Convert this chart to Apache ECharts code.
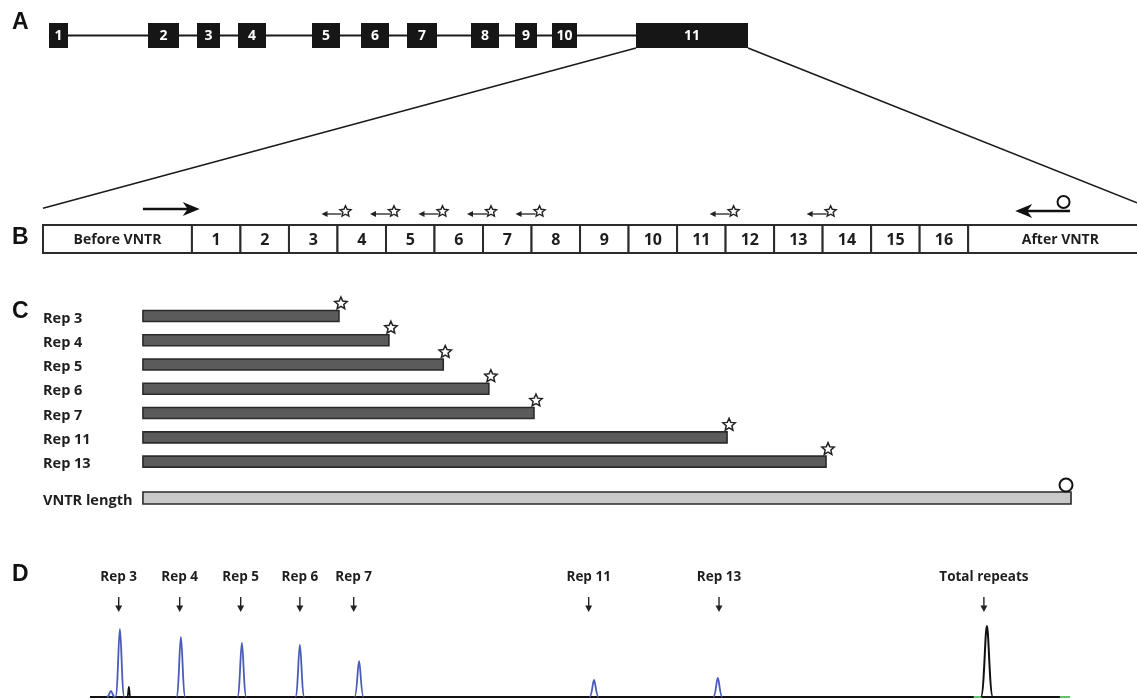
<!DOCTYPE html>
<html><head><meta charset="utf-8">
<script src="https://cdn.jsdelivr.net/npm/echarts@6/dist/echarts.min.js"></script>
<style>html,body{margin:0;padding:0;background:#fff}#c{width:1137px;height:700px}</style>
</head><body><div id="c"></div>
<script>
// ---------- Panel A: gene structure (relative gene units) ----------
const exonLabels = ['1','2','3','4','5','6','7','8','9','10','11'];
const exonStart  = [0, 99, 148, 189, 263, 312, 358, 422, 466, 503, 587];
const exonEnd    = [19, 130, 171, 217, 291, 340, 388, 450, 488, 528, 699];

// ---------- Panel B: VNTR region (repeat units) ----------
const regionLabels = ['Before VNTR','1','2','3','4','5','6','7','8','9','10','11','12','13','14','15','16','After VNTR'];
const regionStart  = [-3.07,0,1,2,3,4,5,6,7,8,9,10,11,12,13,14,15,16];
const regionEnd    = [0,1,2,3,4,5,6,7,8,9,10,11,12,13,14,15,16,19.8];
const forwardPrimer = [-1.01, 0.16];
const reversePrimer = [16.97, 18.1];
const internalPrimers = [3,4,5,6,7,11,13];

// ---------- Panel C: PCR products ----------
const productLabels = ['Rep 3','Rep 4','Rep 5','Rep 6','Rep 7','Rep 11','Rep 13','VNTR length'];
const productRow    = [0,1,2,3,4,5,6,7.5];
const productStart  = [-1.01,-1.01,-1.01,-1.01,-1.01,-1.01,-1.01,-1.01];
const productEnd    = [3.03,4.06,5.18,6.12,7.05,11.03,13.07,18.12];
const productType   = ['star','star','star','star','star','star','star','circle'];

// ---------- Panel D: electropherogram ----------
const markerLabels = ['Rep 3','Rep 4','Rep 5','Rep 6','Rep 7','Rep 11','Rep 13','Total repeats'];
const markerPos    = [2.98,4.0,5.02,6.01,6.91,10.84,13.02,17.45];
const peakPos      = [3.0,4.02,5.04,6.01,7.0,10.93,13.0,17.5];
const peakHeight   = [68,60,54,52,36,17,19,71];
const peakChannel  = ['blue','blue','blue','blue','blue','blue','blue','black'];
const noisePos     = [2.85,3.15];
const noiseHeight  = [6,10];
const noiseChannel = ['blue','black'];
const traceRange   = [2.5,18.89];
const greenSegments = [[17.28,17.42],[18.72,18.89]];

const FONT = '"Open Sans", "Noto Sans", sans-serif';
const chColor = {blue:'#4a5cb8', black:'#111111'};

function starPoints(cx, cy, ro, ri){
  const pts=[];
  for(let k=0;k<10;k++){
    const a = -Math.PI/2 + k*Math.PI/5;
    const r = k%2===0 ? ro : ri;
    pts.push([cx + r*Math.cos(a), cy + r*Math.sin(a)]);
  }
  return pts;
}

const chart = echarts.init(document.getElementById('c'), null, {renderer:'canvas'});

const option = {
  animation:false,
  backgroundColor:'#ffffff',
  grid:[
    {left:0, right:0, top:23, height:25},
    {left:43, right:0, top:225, height:28},
    {left:43, right:0, top:291.7, height:230.6},
    {left:90, right:67, top:597, height:100}
  ],
  xAxis:[
    {gridIndex:0, type:'value', min:-49, max:1088, show:false},
    {gridIndex:1, type:'value', min:-3.07, max:19.48, show:false},
    {gridIndex:2, type:'value', min:-3.07, max:19.48, show:false},
    {gridIndex:3, type:'value', min:traceRange[0], max:traceRange[1], show:false}
  ],
  yAxis:[
    {gridIndex:0, type:'value', min:0, max:1, show:false},
    {gridIndex:1, type:'value', min:0, max:1, show:false},
    {gridIndex:2, type:'value', min:-1, max:8.5, inverse:true, show:false},
    {gridIndex:3, type:'value', min:0, max:100, show:false}
  ],
  graphic:[
    {type:'text', left:12, top:11, style:{text:'A', font:'bold 23px "Liberation Sans", Arial, sans-serif', fill:'#111'}},
    {type:'text', left:12, top:226, style:{text:'B', font:'bold 23px "Liberation Sans", Arial, sans-serif', fill:'#111'}},
    {type:'text', left:12, top:300, style:{text:'C', font:'bold 23px "Liberation Sans", Arial, sans-serif', fill:'#111'}},
    {type:'text', left:12, top:563, style:{text:'D', font:'bold 23px "Liberation Sans", Arial, sans-serif', fill:'#111'}}
  ],
  series:[
    // intron line
    {type:'line', xAxisIndex:0, yAxisIndex:0, symbol:'none', silent:true, z:1,
     data:[[exonStart[0],0.5],[exonEnd[exonEnd.length-1],0.5]],
     lineStyle:{color:'#1a1a1a', width:2}},
    // exons
    {type:'custom', xAxisIndex:0, yAxisIndex:0, silent:true, z:5,
     data: exonStart.map((s,i)=>[s, exonEnd[i]]),
     renderItem:function(params, api){
       const p0=api.coord([api.value(0),1]), p1=api.coord([api.value(1),0]);
       return {type:'group', children:[
         {type:'rect', shape:{x:p0[0], y:p0[1], width:p1[0]-p0[0], height:p1[1]-p0[1]}, style:{fill:'#161616'}},
         {type:'text', z2:10, style:{text:exonLabels[params.dataIndex], x:(p0[0]+p1[0])/2, y:(p0[1]+p1[1])/2+1,
           fill:'#ffffff', font:'bold 14px '+FONT, textAlign:'center', textVerticalAlign:'middle', align:'center', verticalAlign:'middle'}}
       ]};
     }},
    // B cells
    {type:'custom', xAxisIndex:1, yAxisIndex:1, silent:true,
     data: regionStart.map((s,i)=>[s, regionEnd[i]]),
     renderItem:function(params, api){
       const p0=api.coord([api.value(0),1]), p1=api.coord([api.value(1),0]);
       const lab = regionLabels[params.dataIndex];
       const big = lab.length<=2;
       return {type:'group', children:[
         {type:'rect', shape:{x:p0[0], y:p0[1], width:p1[0]-p0[0], height:p1[1]-p0[1]}, style:{fill:'#fff', stroke:'#2b2b2b', lineWidth:2}},
         {type:'text', style:{text:lab, x:(p0[0]+p1[0])/2, y:(p0[1]+p1[1])/2+1,
           fill:'#1e1e1e', font:'bold '+(big?'16px ':'14px ')+FONT, textAlign:'center', textVerticalAlign:'middle', align:'center', verticalAlign:'middle'}}
       ]};
     }},
    // B flanking primers
    {type:'custom', xAxisIndex:1, yAxisIndex:1, silent:true,
     data:[[forwardPrimer[0],forwardPrimer[1],0],[reversePrimer[0],reversePrimer[1],1]],
     renderItem:function(params, api){
       const a=api.coord([api.value(0),1]), b=api.coord([api.value(1),1]);
       const dir=api.value(2);
       if(dir===0){
         const y=a[1]-16, x1=a[0], x2=b[0];
         return {type:'group', children:[
           {type:'line', shape:{x1:x1,y1:y,x2:x2-10,y2:y}, style:{stroke:'#111', lineWidth:2.6}},
           {type:'polygon', shape:{points:[[x2,y],[x2-17,y-7],[x2-12,y],[x2-17,y+7]]}, style:{fill:'#111'}}
         ]};
       } else {
         const y=a[1]-14, x1=a[0], x2=b[0];
         return {type:'group', children:[
           {type:'line', shape:{x1:x1+10,y1:y,x2:x2,y2:y}, style:{stroke:'#111', lineWidth:2.6}},
           {type:'polygon', shape:{points:[[x1,y],[x1+17,y-7],[x1+12,y],[x1+17,y+7]]}, style:{fill:'#111'}},
           {type:'circle', shape:{cx:x2-6.5, cy:y-9, r:6}, style:{fill:'#fff', stroke:'#111', lineWidth:2}}
         ]};
       }
     }},
    // B internal primers with star labels
    {type:'custom', xAxisIndex:1, yAxisIndex:1, silent:true,
     data: internalPrimers.map(n=>[n]),
     renderItem:function(params, api){
       const p=api.coord([api.value(0),1]);
       const bx=p[0], y=p[1]-11;
       return {type:'group', children:[
         {type:'line', shape:{x1:bx-12,y1:y,x2:bx+4,y2:y}, style:{stroke:'#222', lineWidth:1.3}},
         {type:'polygon', shape:{points:[[bx-16,y],[bx-10,y-3],[bx-10,y+3]]}, style:{fill:'#222'}},
         {type:'polygon', shape:{points:starPoints(bx+8, y-2.5, 5.8, 2.7)}, style:{fill:'#fff', stroke:'#222', lineWidth:1.4}}
       ]};
     }},
    // C products
    {type:'custom', xAxisIndex:2, yAxisIndex:2, silent:true,
     data: productRow.map((r,i)=>[productStart[i], r, productEnd[i]]),
     renderItem:function(params, api){
       const i=params.dataIndex;
       const a=api.coord([api.value(0),api.value(1)]), b=api.coord([api.value(2),api.value(1)]);
       const isStar = productType[i]==='star';
       const h = isStar?11:12;
       const top=a[1]-h/2;
       const kids=[
         {type:'rect', shape:{x:a[0], y:top, width:b[0]-a[0], height:h},
          style:{fill:isStar?'#5b5b5b':'#c9c9c9', stroke:'#2a2a2a', lineWidth:1.6}},
         {type:'text', style:{text:productLabels[i], x:api.coord([-3.07,0])[0], y:a[1]+2.5,
           fill:'#1e1e1e', font:'bold 14.5px '+FONT, textAlign:'left', textVerticalAlign:'middle', align:'left', verticalAlign:'middle'}}
       ];
       if(isStar){
         kids.push({type:'polygon', shape:{points:starPoints(b[0]+2, top-7, 6.5, 3)}, style:{fill:'#fff', stroke:'#222', lineWidth:1.5}});
       } else {
         kids.push({type:'circle', shape:{cx:b[0]-5, cy:top-7, r:6.5}, style:{fill:'#fff', stroke:'#111', lineWidth:2}});
       }
       return {type:'group', children:kids};
     }},
    // D baseline
    {type:'line', xAxisIndex:3, yAxisIndex:3, symbol:'none', silent:true,
     data:[[traceRange[0],0],[traceRange[1],0]],
     lineStyle:{color:'#111', width:2}, z:3},
    // D green channel traces near baseline
    {type:'custom', xAxisIndex:3, yAxisIndex:3, silent:true, z:4,
     data: greenSegments,
     renderItem:function(params, api){
       const a=api.coord([api.value(0),0]), b=api.coord([api.value(1),0]);
       return {type:'line', shape:{x1:a[0],y1:a[1],x2:b[0],y2:b[1]}, style:{stroke:'#5fc46a', lineWidth:2}};
     }},
    // D peaks + noise
    {type:'custom', xAxisIndex:3, yAxisIndex:3, silent:true, z:5,
     data: peakPos.map((p,i)=>[p, peakHeight[i], 0, i]).concat(noisePos.map((p,i)=>[p, noiseHeight[i], 1, i])),
     renderItem:function(params, api){
       const isNoise = api.value(2)===1, idx=api.value(3);
       const ch = isNoise ? noiseChannel[idx] : peakChannel[idx];
       const base=api.coord([api.value(0),0]), top=api.coord([api.value(0),api.value(1)]);
       const x=base[0], yb=base[1], yt=top[1];
       const w = isNoise ? (ch==='black'?1.5:4) : (ch==='black'?6:4.5);
       const d = 'M'+(x-w)+' '+yb+' C'+(x-w*0.45)+' '+yb+' '+(x-w*0.3)+' '+yt+' '+x+' '+yt+
                 ' C'+(x+w*0.3)+' '+yt+' '+(x+w*0.45)+' '+yb+' '+(x+w)+' '+yb;
       return {type:'path', shape:{pathData:d}, style:{fill:'none', stroke:chColor[ch], lineWidth:ch==='black'&&!isNoise?2:1.8}};
     }},
    // D markers (labels and arrows)
    {type:'custom', xAxisIndex:3, yAxisIndex:3, silent:true,
     data: markerPos.map(p=>[p,100]),
     renderItem:function(params, api){
       const p=api.coord([api.value(0),100]);
       const x=p[0], y0=p[1];
       return {type:'group', children:[
         {type:'text', style:{text:markerLabels[params.dataIndex], x:x, y:y0-20, fill:'#1e1e1e',
           font:'bold 13.5px '+FONT, textAlign:'center', textVerticalAlign:'middle', align:'center', verticalAlign:'middle'}},
         {type:'line', shape:{x1:x,y1:y0,x2:x,y2:y0+12}, style:{stroke:'#222', lineWidth:1.4}},
         {type:'polygon', shape:{points:[[x-3.5,y0+8.5],[x+3.5,y0+8.5],[x,y0+15]]}, style:{fill:'#222'}}
       ]};
     }}
  ]
};
chart.setOption(option);

// connector lines from exon 11 to the expanded VNTR region
const exL = chart.convertToPixel({xAxisIndex:0, yAxisIndex:0}, [exonStart[10], 0]);
const exR = chart.convertToPixel({xAxisIndex:0, yAxisIndex:0}, [exonEnd[10], 0]);
const bL  = chart.convertToPixel({xAxisIndex:1, yAxisIndex:1}, [regionStart[0], 1.6]);
const bR  = chart.convertToPixel({xAxisIndex:1, yAxisIndex:1}, [19.48, 1.79]);
chart.setOption({graphic: option.graphic.concat([
  {type:'line', shape:{x1:exL[0], y1:exL[1], x2:bL[0], y2:bL[1]}, style:{stroke:'#1a1a1a', lineWidth:1.5}},
  {type:'line', shape:{x1:exR[0], y1:exR[1], x2:bR[0], y2:bR[1]}, style:{stroke:'#1a1a1a', lineWidth:1.5}}
])});
</script>
</body></html>
